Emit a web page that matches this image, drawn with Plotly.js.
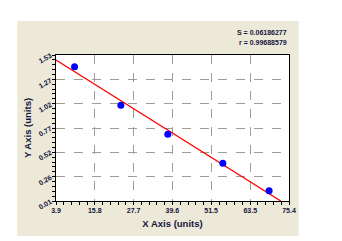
<!DOCTYPE html>
<html>
<head>
<meta charset="utf-8">
<script src="https://cdn.plot.ly/plotly-3.0.1.min.js"></script>
<style>html,body{margin:0;padding:0;background:#fff;}#chart{width:342px;height:241px;}</style>
</head>
<body>
<div id="chart"></div>
<script>
// Data
var pointX = [9.6, 23.8, 38.2, 55.1, 69.3];
var pointY = [1.408, 1.006, 0.704, 0.402, 0.117];
var fitX = [3.9, 72.9];
var fitY = [1.478, 0.01];
var xTickVals = [3.9, 15.8, 27.7, 39.6, 51.5, 63.5, 75.4];
var xTickText = ["3.9", "15.8", "27.7", "39.6", "51.5", "63.5", "75.4"];
var yTickVals = [0.01, 0.26, 0.52, 0.77, 1.02, 1.27, 1.53];
var yTickText = ["0.01", "0.26", "0.52", "0.77", "1.02", "1.27", "1.53"];
var statLines = ["S = 0.06186277", "r = 0.99688579"];

var tickFont = {family: "Liberation Sans, Arial, sans-serif", size: 7, color: "#14143c", weight: "bold"};
var titleFont = {family: "Liberation Sans, Arial, sans-serif", size: 9.5, color: "#14143c", weight: "bold"};

var traces = [
  {x: fitX, y: fitY, mode: "lines", line: {color: "#ff0000", width: 1.3}, hoverinfo: "skip", cliponaxis: true},
  {x: pointX, y: pointY, mode: "markers", marker: {color: "#0000ff", size: 7}, cliponaxis: false}
];

var layout = {
  width: 342, height: 241,
  margin: {l: 56, r: 53, t: 55, b: 40, pad: 0},
  paper_bgcolor: "#ffffff",
  plot_bgcolor: "#ffffff",
  showlegend: false,
  xaxis: {
    range: [3.9, 75.4], tickmode: "array", tickvals: xTickVals, ticktext: xTickText,
    ticks: "outside", ticklen: 3, tickcolor: "#000", tickwidth: 1,
    showline: true, linecolor: "#000", linewidth: 1, mirror: true,
    showgrid: true, gridcolor: "#a09c94", griddash: "dash", gridwidth: 1,
    zeroline: false, tickfont: tickFont, tickangle: 0,
    minor: {tickmode: "linear", tick0: 3.9, dtick: 71.5 / 30, ticks: "outside", ticklen: 3, tickcolor: "#000", showgrid: false},
    title: {text: "X Axis (units)", font: titleFont, standoff: 6}
  },
  yaxis: {
    range: [0.01, 1.53], tickmode: "array", tickvals: yTickVals, ticktext: yTickText,
    ticks: "outside", ticklen: 3, tickcolor: "#000", tickwidth: 1,
    showline: true, linecolor: "#000", linewidth: 1, mirror: true,
    showgrid: true, gridcolor: "#a09c94", griddash: "dash", gridwidth: 1,
    zeroline: false, tickfont: tickFont, tickangle: -30,
    minor: {tickmode: "linear", tick0: 0.01, dtick: 1.52 / 30, ticks: "outside", ticklen: 3, tickcolor: "#000", showgrid: false},
    title: {text: "Y Axis (units)", font: titleFont, standoff: 4}
  },
  shapes: [
    {type: "rect", xref: "paper", yref: "paper", x0: -0.1665, x1: 1.0412, y0: -0.2397, y1: 1.2329,
     fillcolor: "#ece9d8", line: {width: 0}, layer: "below"},
    {type: "rect", xref: "paper", yref: "paper", x0: 0, x1: 1, y0: 0, y1: 1,
     fillcolor: "#ffffff", line: {width: 0}, layer: "below"}
  ],
  annotations: [
    {xref: "paper", yref: "paper", x: 1.0, y: 1.151, xanchor: "right", yanchor: "middle", showarrow: false,
     text: statLines[0], font: tickFont},
    {xref: "paper", yref: "paper", x: 1.0, y: 1.084, xanchor: "right", yanchor: "middle", showarrow: false,
     text: statLines[1], font: tickFont}
  ]
};

Plotly.newPlot("chart", traces, layout, {displayModeBar: false, staticPlot: true});
</script>
</body>
</html>
